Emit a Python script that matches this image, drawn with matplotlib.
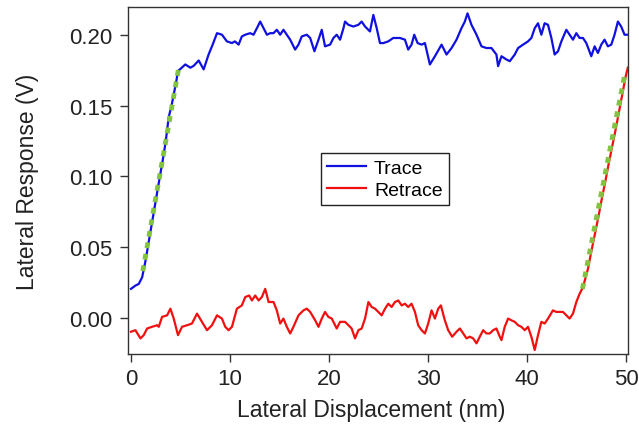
import matplotlib
matplotlib.use("Agg")
import matplotlib.pyplot as plt

plt.rcParams['font.family'] = ['Liberation Sans', 'DejaVu Sans']

# Trace (forward scan): lateral displacement (nm) and lateral response (V)
trace_x = [0.0, 0.45, 0.79, 1.13, 1.46, 1.8, 2.13, 2.5, 2.85, 3.2, 3.5, 3.81, 4.1, 4.32, 4.55, 4.75,
           5.49, 6.0, 6.33, 6.84, 7.34, 7.84, 8.25, 8.69, 9.19, 9.69, 10.2, 10.5, 10.87, 11.2,
           11.54, 12.04, 12.38, 12.72, 13.05, 13.4, 13.73, 14.07, 14.4, 14.73, 15.07, 15.4,
           15.74, 16.08, 16.58, 16.92, 17.25, 17.76, 18.1, 18.53, 18.94, 19.27, 19.6, 20.11,
           20.45, 20.78, 21.12, 21.46, 21.62, 21.96, 22.46, 22.97, 23.3, 23.64, 24.14, 24.48,
           24.82, 25.15, 25.49, 25.99, 26.49, 27.17, 27.67, 28.0, 28.34, 28.61, 28.95, 29.35,
           29.69, 30.19, 30.7, 31.37, 31.87, 32.38, 32.88, 33.38, 33.72, 33.99, 34.39, 34.9,
           35.4, 35.9, 36.41, 36.91, 37.08, 37.42, 37.92, 38.26, 38.76, 39.1, 39.6, 40.1,
           40.44, 40.78, 41.11, 41.45, 41.78, 42.12, 42.46, 42.79, 43.13, 43.47, 43.97, 44.3,
           44.64, 44.98, 45.31, 45.65, 45.99, 46.49, 46.83, 47.16, 47.5, 47.83, 48.17, 48.51,
           48.84, 49.18, 49.51, 49.85, 50.18]
trace_y = [0.0205, 0.0228, 0.024, 0.0287, 0.040, 0.054, 0.068, 0.083, 0.097, 0.111, 0.124, 0.1417,
           0.150, 0.158, 0.166, 0.1743,
           0.179, 0.1767, 0.178, 0.1818, 0.1755, 0.186, 0.193, 0.2011, 0.200, 0.1953, 0.1941,
           0.1953, 0.193, 0.1988, 0.200, 0.2011, 0.200, 0.2046, 0.2093, 0.2046, 0.200, 0.2011,
           0.2011, 0.2035, 0.200, 0.2035, 0.200, 0.1965, 0.1895, 0.193, 0.1988, 0.200, 0.1977,
           0.1883, 0.1965, 0.2035, 0.1918, 0.193, 0.1977, 0.200, 0.1965, 0.2046, 0.2093, 0.207,
           0.2058, 0.207, 0.2093, 0.2058, 0.2023, 0.214, 0.2046, 0.1941, 0.1941, 0.1953, 0.1977,
           0.1977, 0.1965, 0.1895, 0.193, 0.200, 0.1941, 0.193, 0.1941, 0.179, 0.1848, 0.193,
           0.186, 0.1906, 0.1965, 0.2046, 0.2093, 0.2151, 0.207, 0.200, 0.1918, 0.1906, 0.1906,
           0.186, 0.1778, 0.1848, 0.1825, 0.1813, 0.186, 0.1906, 0.193, 0.1953, 0.1977, 0.2046,
           0.2081, 0.200, 0.2081, 0.207, 0.1977, 0.186, 0.1883, 0.1953, 0.2035, 0.200, 0.1965,
           0.2011, 0.1977, 0.1977, 0.1941, 0.1848, 0.1918, 0.1871, 0.193, 0.1965, 0.1918, 0.193,
           0.200, 0.2093, 0.2058, 0.200, 0.200]

# Retrace (reverse scan)
retrace_x = [0.0, 0.45, 0.96, 1.29, 1.63, 2.13, 2.64, 2.81, 3.14, 3.65, 3.98, 4.32, 4.75, 5.16,
             5.66, 6.16, 6.67, 7.17, 7.68, 8.18, 8.69, 9.19, 9.52, 9.86, 10.2, 10.7, 11.2, 11.54,
             11.94, 12.21, 12.55, 12.89, 13.22, 13.56, 13.9, 14.4, 14.73, 15.07, 15.4, 15.74,
             16.08, 16.41, 16.92, 17.42, 17.76, 18.1, 18.6, 18.94, 19.27, 19.6, 19.94, 20.28,
             20.78, 21.12, 21.62, 21.96, 22.29, 22.63, 22.97, 23.3, 23.64, 23.98, 24.31, 24.65,
             24.98, 25.32, 25.66, 25.99, 26.33, 26.66, 27.0, 27.34, 27.67, 28.0, 28.34, 28.68,
             29.01, 29.35, 29.69, 30.02, 30.36, 30.7, 31.03, 31.3, 31.7, 32.04, 32.44, 32.88,
             33.22, 33.55, 33.89, 34.22, 34.56, 34.9, 35.23, 35.57, 35.9, 36.24, 36.58, 36.91,
             37.25, 37.42, 37.75, 38.09, 38.42, 38.76, 39.1, 39.43, 39.77, 40.1, 40.44, 40.78,
             41.11, 41.45, 41.78, 42.12, 42.62, 42.96, 43.3, 43.63, 43.97, 44.3, 44.64, 44.98,
             45.31, 45.65, 45.88, 46.15, 46.5, 46.85, 47.2, 47.55, 47.9, 48.25, 48.6, 48.95,
             49.3, 49.68, 49.95, 50.18]
retrace_y = [-0.0098, -0.0087, -0.0145, -0.0122, -0.0075, -0.0063, -0.0052, -0.0063, 0.0007,
             0.0018, 0.0065, -0.0005, -0.0122, -0.0063, -0.0052, -0.004, 0.003, -0.0028, -0.0087,
             -0.0052, 0.0018, -0.0005, -0.0063, -0.0087, -0.0063, 0.0065, 0.0088, 0.0147, 0.0158,
             0.0123, 0.0158, 0.0123, 0.0147, 0.0205, 0.0112, 0.0112, 0.0053, -0.004, -0.0005,
             -0.0063, -0.011, -0.0063, 0.0018, 0.0053, 0.0065, 0.0042, -0.0017, -0.0063, -0.0005,
             0.0042, 0.0007, -0.0005, -0.0075, -0.0028, -0.0028, -0.0052, -0.0075, -0.0145,
             -0.0087, -0.0075, -0.0005, 0.0112, 0.0077, 0.0065, 0.0042, 0.0018, 0.0065, 0.010,
             0.0077, 0.0112, 0.0123, 0.0088, 0.010, 0.0077, 0.010, 0.0042, -0.0052, -0.0087,
             -0.011, -0.004, 0.0053, -0.0005, 0.0065, 0.0088, -0.0017, -0.0087, -0.0133, -0.0098,
             -0.0075, -0.011, -0.0145, -0.0133, -0.0145, -0.018, -0.0133, -0.0087, -0.011, -0.011,
             -0.0087, -0.0075, -0.0133, -0.0157, -0.0063, -0.0005, -0.0017, -0.0028, -0.0052,
             -0.0063, -0.0087, -0.0063, -0.0133, -0.0227, -0.0122, -0.0028, -0.004, -0.0005,
             0.0053, 0.0042, 0.0042, 0.0042, 0.0018, -0.0005, 0.003, 0.0112, 0.017, 0.0216,
             0.0275, 0.0345, 0.047, 0.059, 0.071, 0.084, 0.096, 0.109, 0.121, 0.133, 0.146,
             0.160, 0.170, 0.1767]

# Linear fits over the stick-slip ramps
fit_trace_x = [1.2, 4.8]
fit_trace_y = [0.0330, 0.1757]
fit_retrace_x = [45.6, 49.85]
fit_retrace_y = [0.0205, 0.1710]

xticks = [0, 10, 20, 30, 40, 50]
yticks = [0.00, 0.05, 0.10, 0.15, 0.20]

fig = plt.figure(figsize=(6.39, 4.27), dpi=100)
ax = fig.add_axes([0.2003, 0.169, 0.7825, 0.812])

ax.plot(trace_x, trace_y, color='#1010e0', lw=1.6, label='Trace', zorder=3)
ax.plot(retrace_x, retrace_y, color='#f01010', lw=1.6, label='Retrace', zorder=3)
ax.plot(fit_trace_x, fit_trace_y, color='#82c341', lw=3.5, ls=(0, (1.2, 1.2)), zorder=4)
ax.plot(fit_retrace_x, fit_retrace_y, color='#82c341', lw=3.5, ls=(0, (1.2, 1.2)), zorder=4)

ax.set_xlim(-0.3, 50.2)
ax.set_ylim(-0.0254, 0.2195)
ax.set_xticks(xticks)
ax.set_yticks(yticks)
ax.set_yticklabels([f"{v:.2f}" for v in yticks])
ax.tick_params(direction='out', length=6, width=1, labelsize=16, color='#333333',
               labelcolor='#222222')
ax.tick_params(axis='y', pad=5)
ax.tick_params(axis='x', pad=4)
for s in ax.spines.values():
    s.set_linewidth(1.0)
    s.set_color('#333333')

ax.set_xlabel('Lateral Displacement (nm)', fontsize=16.5, color='#222222')
ax.xaxis.set_label_coords(0.486, -0.128)
ax.set_ylabel('Lateral Response (V)', fontsize=16.5, color='#222222')
ax.yaxis.set_label_coords(-0.178, 0.5)

leg = ax.legend(loc='upper left', bbox_to_anchor=(0.386, 0.579), borderaxespad=0,
                fontsize=14, handlelength=2.0, handletextpad=0.4, labelspacing=0.22,
                borderpad=0.32, fancybox=False, framealpha=1, edgecolor='#222222')
leg.get_frame().set_linewidth(1.0)

fig.savefig('out.png', dpi=100)
